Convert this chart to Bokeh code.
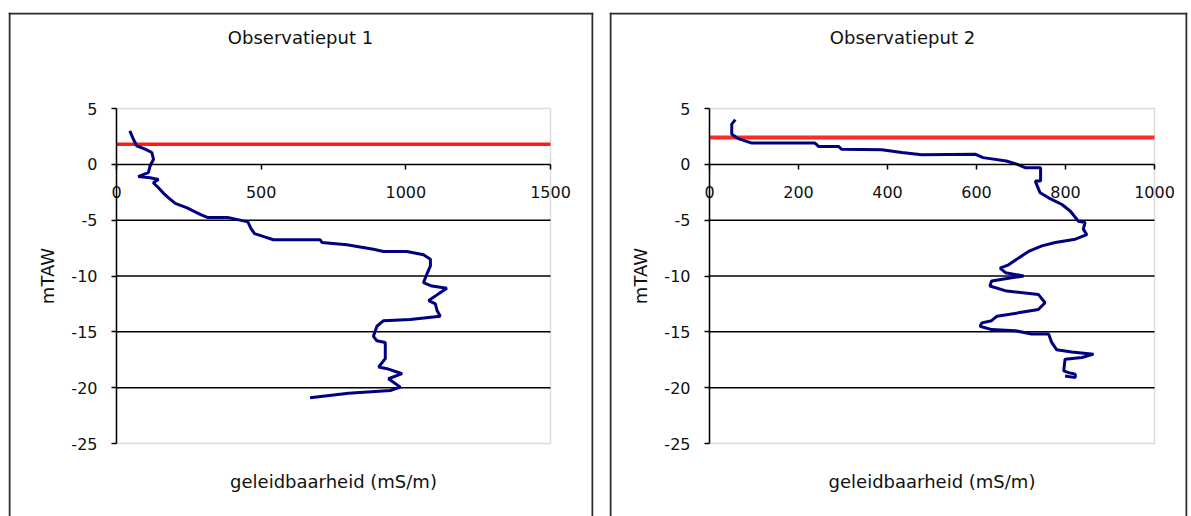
from bokeh.plotting import figure
from bokeh.layouts import row
from bokeh.models import Range1d, FixedTicker, Span, BoxAnnotation, Label
from bokeh.embed import file_html
from bokeh.resources import INLINE

# ---- data ----
titles = ["Observatieput 1", "Observatieput 2"]
x_label = "geleidbaarheid (mS/m)"
y_label = "mTAW"

put1_x = [46, 58, 70, 99, 122, 128, 116, 110, 75, 116, 145, 127, 145, 163, 180, 203, 244,
          291, 314, 384, 454, 465, 477, 512, 542, 704, 710, 796, 888, 923, 1004, 1061, 1085,
          1085, 1073, 1061, 1090, 1142, 1113, 1079, 1102, 1108, 1119, 1015, 923, 900, 888,
          900, 929, 929, 906, 935, 987, 940, 981, 946, 802, 669]
put1_y = [3.0, 2.27, 1.66, 1.36, 1.06, 0.45, -0.15, -0.75, -1.1, -1.2, -1.36, -1.65, -2.1,
          -2.6, -3.0, -3.5, -3.9, -4.5, -4.75, -4.75, -5.15, -5.75, -6.2, -6.5, -6.75, -6.75,
          -7.0, -7.2, -7.6, -7.8, -7.8, -8.1, -8.5, -9.1, -9.8, -10.6, -10.9, -11.1, -11.6,
          -12.2, -12.5, -13.1, -13.6, -13.9, -14.0, -14.5, -15.4, -15.8, -15.95, -17.4,
          -18.15, -18.3, -18.75, -19.2, -19.95, -20.25, -20.5, -20.9]

put2_x = [58, 50, 50, 65, 95, 237, 245, 290, 297, 387, 432, 477, 598, 615, 667, 692, 709,
          744, 744, 732, 743, 762, 792, 811, 829, 844, 840, 848, 822, 777, 747, 717, 694,
          672, 653, 665, 706, 672, 634, 630, 668, 739, 754, 739, 694, 646, 634, 612, 608,
          634, 687, 724, 762, 769, 780, 814, 863, 837, 799, 796, 807, 822, 822, 799]
put2_y = [4.0, 3.6, 2.7, 2.3, 1.9, 1.9, 1.6, 1.6, 1.35, 1.3, 1.05, 0.85, 0.9, 0.6, 0.3, 0.0,
          -0.3, -0.3, -1.5, -1.5, -2.55, -3.0, -3.6, -4.2, -5.1, -5.2, -5.8, -6.3, -6.7,
          -7.0, -7.3, -7.8, -8.4, -9.0, -9.3, -9.7, -10.0, -10.2, -10.45, -10.9, -11.35,
          -11.65, -12.4, -13.0, -13.3, -13.6, -14.0, -14.2, -14.5, -14.8, -14.9, -15.2,
          -15.2, -15.95, -16.6, -16.8, -17.0, -17.3, -17.45, -18.5, -18.65, -18.8, -19.1,
          -18.95]

water_levels = [1.8, 2.4]
x_max = [1500, 1000]
y_min, y_max = -25, 5
x_ticks = [[0, 500, 1000, 1500], [0, 200, 400, 600, 800, 1000]]
y_ticks = [5, 0, -5, -10, -15, -20, -25]
y_tick_labels = ["5", "0", "-5", "-10", "-15", "-20", "-25"]
grid_ticks = [-5, -10, -15, -20]

FONT = "DejaVu Sans"
TXT = "#111111"
H = 516


def make_panel(i, xs, ys, width, box_l, box_r, pl, pr, title_px, red_w, red_c):
    # pixel layout (within this figure)
    box_t = 12
    pt, pb = 108, 443
    xmax = x_max[i]

    def fx(px):
        return xmax * (px - pl) / (pr - pl)

    def fy(py):
        return y_max + (pt - py) * (y_max - y_min) / (pb - pt)

    p = figure(width=width, height=H, output_backend="svg", toolbar_location=None,
               x_range=Range1d(fx(box_l), fx(box_r)), y_range=Range1d(fy(H), fy(box_t)),
               min_border_left=box_l, min_border_right=width - box_r,
               min_border_top=box_t, min_border_bottom=0)
    p.background_fill_color = "white"
    p.border_fill_color = "white"
    p.outline_line_color = None
    p.grid.visible = False

    # panel border (left, right, top)
    for loc, dim in [(fx(box_l + 1), "height"), (fx(box_r - 1), "height"), (fy(box_t + 1), "width")]:
        p.add_layout(Span(location=loc, dimension=dim, line_color="#2a2a2a", line_width=2))

    # plot area border (gray)
    p.add_layout(BoxAnnotation(left=0, right=xmax, top=y_max, bottom=y_min,
                               fill_color=None, line_color="#8c8c8c", line_width=1.5,
                               level="underlay"))

    # horizontal grid lines
    n = len(grid_ticks)
    p.segment(x0=[0] * n, x1=[xmax] * n, y0=grid_ticks, y1=grid_ticks,
              line_color="black", line_width=1.5)

    # x axis at y = 0
    xa = p.xaxis[0]
    xa.fixed_location = 0
    xa.bounds = (0, xmax)
    xa.ticker = FixedTicker(ticks=x_ticks[i])
    xa.major_tick_in = 0
    xa.major_tick_out = 5
    xa.minor_tick_line_color = None
    xa.axis_line_color = "black"
    xa.axis_line_width = 1.5
    xa.major_tick_line_width = 1.5
    xa.major_label_text_font = FONT
    xa.major_label_text_font_size = "16px"
    xa.major_label_text_color = TXT
    xa.major_label_standoff = 17

    # y axis at x = 0
    ya = p.yaxis[0]
    ya.fixed_location = 0
    ya.bounds = (y_min, y_max)
    ya.ticker = FixedTicker(ticks=y_ticks)
    ya.major_label_overrides = dict(zip(y_ticks, y_tick_labels))
    ya.major_tick_in = 0
    ya.major_tick_out = 5
    ya.minor_tick_line_color = None
    ya.axis_line_color = "black"
    ya.axis_line_width = 1.5
    ya.major_tick_line_width = 1.5
    ya.major_label_text_font = FONT
    ya.major_label_text_font_size = "16px"
    ya.major_label_text_color = TXT
    ya.major_label_standoff = 14
    ya.axis_label = y_label
    ya.axis_label_text_font = FONT
    ya.axis_label_text_font_size = "18px"
    ya.axis_label_text_font_style = "normal"
    ya.axis_label_text_color = TXT
    ya.axis_label_standoff = 10

    # water level
    p.line(x=[0, xmax], y=[water_levels[i]] * 2, line_color=red_c, line_width=red_w)

    # conductivity profile
    p.line(xs, ys, line_color="#000080", line_width=3)

    # titles
    p.add_layout(Label(x=fx(title_px), y=fy(37), text=titles[i], text_font=FONT,
                       text_font_size="18px", text_color=TXT, text_align="center",
                       text_baseline="middle"))
    p.add_layout(Label(x=xmax / 2, y=fy(481), text=x_label, text_font=FONT,
                       text_font_size="18px", text_color=TXT, text_align="center",
                       text_baseline="middle"))
    return p


p1 = make_panel(0, put1_x, put1_y, 600, 8, 593, 116, 550, 300, 3.5, "#ff1a1a")
p2 = make_panel(1, put2_x, put2_y, 591, 9, 587, 109, 554, 302, 4, "#ff2a2a")
p = row(p1, p2)

open("out.html", "w").write(file_html(p, INLINE))
